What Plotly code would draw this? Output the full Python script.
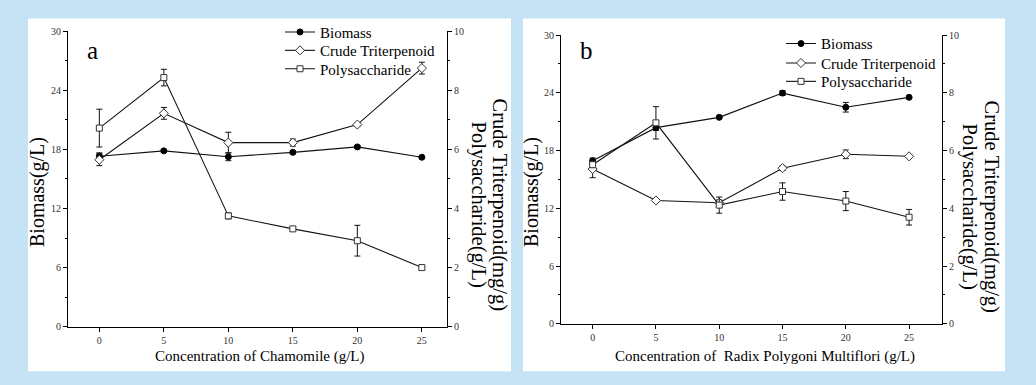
import plotly.graph_objects as go

# ---------------- data ----------------
conc = [0, 5, 10, 15, 20, 25]
x_ticks = [0, 5, 10, 15, 20, 25]

# Panel a: Chamomile
a_biomass = [17.3, 17.85, 17.25, 17.7, 18.25, 17.2]
a_biomass_err = [0.35, 0.15, 0.4, 0.15, 0.15, 0.1]
a_triterp = [5.65, 7.22, 6.23, 6.23, 6.84, 8.75]
a_triterp_err = [0.2, 0.2, 0.35, 0.12, 0.06, 0.2]
a_poly = [6.72, 8.43, 3.75, 3.31, 2.91, 2.0]
a_poly_err = [0.64, 0.28, 0.1, 0.04, 0.52, 0.03]

# Panel b: Radix Polygoni Multiflori
b_biomass = [16.93, 20.38, 21.45, 23.97, 22.5, 23.53]
b_biomass_err = [0.3, 0.3, 0.1, 0.25, 0.5, 0.15]
b_triterp = [5.36, 4.27, 4.19, 5.39, 5.87, 5.8]
b_triterp_err = [0.3, 0.05, 0.1, 0.08, 0.15, 0.05]
b_poly = [5.51, 6.96, 4.11, 4.58, 4.25, 3.69]
b_poly_err = [0.1, 0.56, 0.28, 0.3, 0.33, 0.27]

series_names = ["Biomass", "Crude Triterpenoid", "Polysaccharide"]
x_titles = ["Concentration of Chamomile (g/L)",
            "Concentration of  Radix Polygoni Multiflori (g/L)"]
panel_labels = ["a", "b"]

# ---------------- figure ----------------
W, H = 1036, 385
FONT = "Liberation Serif"
fig = go.Figure()

markers = [
    dict(symbol="circle", size=6, color="black", line=dict(color="black", width=1)),
    dict(symbol="diamond", size=7, color="white", line=dict(color="#333", width=1)),
    dict(symbol="square", size=6, color="white", line=dict(color="#333", width=1)),
]

panels = [
    ("x", "y", "y2", ["legend", "legend2", "legend3"], [a_biomass, a_triterp, a_poly],
     [a_biomass_err, a_triterp_err, a_poly_err]),
    ("x2", "y3", "y4", ["legend4", "legend5", "legend6"], [b_biomass, b_triterp, b_poly],
     [b_biomass_err, b_triterp_err, b_poly_err]),
]

for xa, yl, yr, legs, vals, errs in panels:
    for i, (name, v, e) in enumerate(zip(series_names, vals, errs)):
        fig.add_trace(go.Scatter(
            x=conc, y=v, name=name, mode="lines+markers",
            xaxis=xa, yaxis=yl if i == 0 else yr, legend=legs[i],
            line=dict(color="#111", width=1.1),
            marker=markers[i],
            error_y=dict(type="data", array=e, visible=True,
                         color="#111", thickness=1, width=3),
        ))

def px_x(p):
    return p / W

def px_y(p):
    return (H - p) / H

axis_common = dict(showline=True, linecolor="black", linewidth=1,
                   showgrid=False, zeroline=False, ticks="outside",
                   ticklen=4, tickcolor="black",
                   tickfont=dict(family=FONT, size=10, color="#333"))

def legend_at(xp, row_center):
    return dict(x=px_x(xp), y=px_y(row_center - 21), xanchor="left", yanchor="top",
                bgcolor="rgba(0,0,0,0)", font=dict(family=FONT, size=15, color="black"),
                itemwidth=30)

fig.update_layout(
    width=W, height=H,
    margin=dict(l=0, r=0, t=0, b=0),
    paper_bgcolor="#c6e3f6",
    plot_bgcolor="white",
    font=dict(family=FONT, color="black"),
    xaxis=dict(domain=[px_x(68), px_x(447)], range=[-2.43, 26.95],
               anchor="y", tickvals=x_ticks, **axis_common),
    yaxis=dict(domain=[px_y(331), px_y(26)], range=[0, 30], dtick=6,
               anchor="x",
               minor=dict(dtick=3, ticks="outside", ticklen=2, tickcolor="black"),
               **axis_common),
    yaxis2=dict(overlaying="y", side="right", anchor="x", range=[0, 10], dtick=2,
                minor=dict(dtick=1, ticks="outside", ticklen=2, tickcolor="black"),
                **axis_common),
    xaxis2=dict(domain=[px_x(561), px_x(942)], range=[-2.5, 27.6],
                anchor="y3", tickvals=x_ticks, **axis_common),
    yaxis3=dict(domain=[px_y(328), px_y(30)], range=[0, 30], dtick=6,
                anchor="x2",
                minor=dict(dtick=3, ticks="outside", ticklen=2, tickcolor="black"),
                **axis_common),
    yaxis4=dict(overlaying="y3", side="right", anchor="x2", range=[0, 10], dtick=2,
                minor=dict(dtick=1, ticks="outside", ticklen=2, tickcolor="black"),
                **axis_common),
    legend=legend_at(280, 31),
    legend2=legend_at(280, 50),
    legend3=legend_at(280, 69),
    legend4=legend_at(781, 43),
    legend5=legend_at(781, 63),
    legend6=legend_at(781, 82),
    showlegend=True,
)

# white panel backgrounds
for x0, x1 in [(28, 511), (523, 1005)]:
    fig.add_shape(type="rect", xref="paper", yref="paper",
                  x0=px_x(x0), x1=px_x(x1), y0=px_y(377), y1=px_y(13),
                  fillcolor="white", line=dict(width=0), layer="below")

ann = []
# left titles
for xc in [37, 531]:
    ann.append(dict(text="Biomass(g/L)", x=px_x(xc), y=px_y(192), textangle=-90,
                    font=dict(size=20)))
# right titles
for xc1, xc2, yc in [(499, 478, 205), (991, 969, 207)]:
    ann.append(dict(text="Crude Triterpenoid(mg/g)", x=px_x(xc1), y=px_y(yc),
                    textangle=90, font=dict(size=20.5)))
    ann.append(dict(text="Polysaccharide(g/L)", x=px_x(xc2), y=px_y(yc),
                    textangle=90, font=dict(size=20.5)))
# x titles
for xc, t in zip([260, 765], x_titles):
    ann.append(dict(text=t, x=px_x(xc), y=px_y(362), font=dict(size=15)))
# panel labels
for xc, t in zip([92, 586], panel_labels):
    ann.append(dict(text=t, x=px_x(xc), y=px_y(46), font=dict(size=25)))

for a in ann:
    a.update(xref="paper", yref="paper", showarrow=False,
             xanchor="center", yanchor="middle")
    a["font"].update(family=FONT, color="black")
fig.update_layout(annotations=ann)

fig.write_html(
    "out.html",
    config={"displayModeBar": False},
    post_script="document.body.style.margin='0';document.body.style.overflow='hidden';"
                "document.body.style.background='#c6e3f6';",
)
